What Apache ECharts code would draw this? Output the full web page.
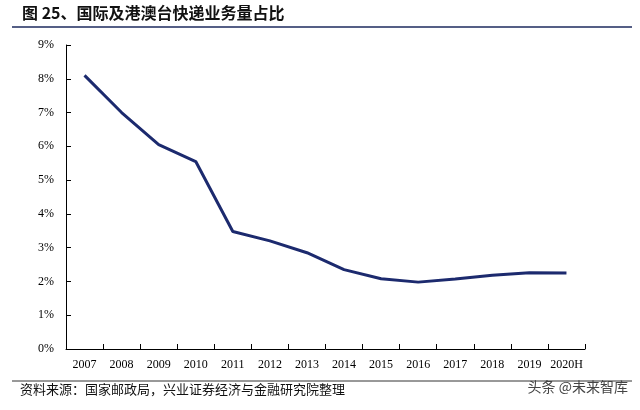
<!DOCTYPE html>
<html><head><meta charset="utf-8">
<script src="https://cdn.jsdelivr.net/npm/echarts@6/dist/echarts.min.js"></script>
<style>html,body{margin:0;padding:0;background:#fff}#c{width:640px;height:410px}</style>
</head><body><div id="c"></div>
<script>
const categories=['2007','2008','2009','2010','2011','2012','2013','2014','2015','2016','2017','2018','2019','2020H'];
const shareValues=[8.1,7.0,6.05,5.55,3.48,3.2,2.85,2.35,2.08,1.98,2.07,2.18,2.26,2.25];
const titleText='图 25、国际及港澳台快递业务量占比';
const sourceText='资料来源：国家邮政局，兴业证券经济与金融研究院整理';
const chart=echarts.init(document.getElementById('c'));
chart.setOption({
  animation:false,
  graphic:[
    {type:'text',left:22,top:5,style:{text:titleText,font:'bold 16px "Noto Sans CJK SC"',fill:'#111'}},
    {type:'line',shape:{x1:12,y1:27,x2:632,y2:27},style:{stroke:'#1c2a5e',lineWidth:1.5}},
    {type:'line',shape:{x1:12,y1:381,x2:632,y2:381},style:{stroke:'#333',lineWidth:1}},
    {type:'text',left:20,top:383,style:{text:sourceText,font:'13px "Noto Sans CJK SC"',fill:'#111'}},
    {type:'text',right:12,top:380,style:{text:'头条 @未来智库',font:'14px "Noto Sans CJK SC"',fill:'#444'}}
  ],
  grid:{left:66,right:55,top:45,bottom:61},
  xAxis:{type:'category',data:categories,boundaryGap:true,
    axisLine:{lineStyle:{color:'#000'}},axisTick:{show:true,inside:true,lineStyle:{color:'#000'}},
    axisLabel:{color:'#000',fontFamily:'Liberation Serif',fontSize:12,margin:10,interval:0}},
  yAxis:{type:'value',min:0,max:9,interval:1,
    axisLine:{show:true,lineStyle:{color:'#000'}},axisTick:{show:true,inside:true,lineStyle:{color:'#000'}},
    splitLine:{show:false},
    axisLabel:{formatter:'{value}%',color:'#000',fontFamily:'Liberation Serif',fontSize:12,margin:12}},
  series:[{type:'line',data:shareValues,symbol:'none',lineStyle:{color:'#1c2a6e',width:3}}]
});
</script></body></html>
